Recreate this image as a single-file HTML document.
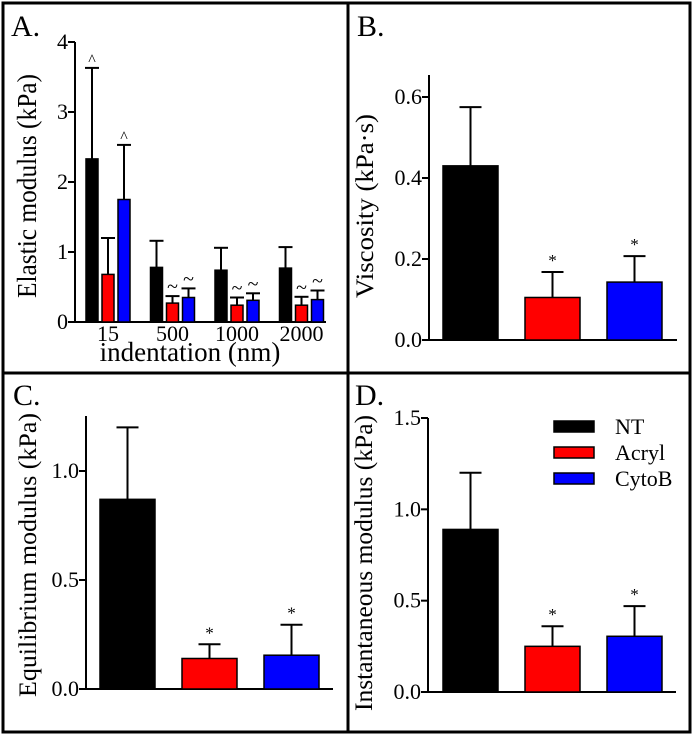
<!DOCTYPE html>
<html><head><meta charset="utf-8"><style>
html,body{margin:0;padding:0;background:#fff}
svg{display:block}
svg text{font-family:"Liberation Serif","Times New Roman","DejaVu Serif",serif;fill:#000}
</style></head><body>
<svg id="fig" width="696" height="741" viewBox="0 0 696 741" xmlns="http://www.w3.org/2000/svg" font-family="Liberation Serif, DejaVu Serif, serif">
<rect x="3" y="3" width="687" height="729" fill="none" stroke="#000" stroke-width="3"/>
<line x1="348" y1="3" x2="348" y2="732" stroke="#000" stroke-width="3"/>
<line x1="3" y1="373" x2="690" y2="373" stroke="#000" stroke-width="3"/>
<text x="11" y="36" font-size="30">A.</text>
<text x="357" y="36" font-size="30">B.</text>
<text x="13" y="405" font-size="30">C.</text>
<text x="355" y="405" font-size="30">D.</text>
<g id="plots"></g>
</svg>
<script>
// Panel A data
const aCategories = ["15","500","1000","2000"];
const aNT = [2.33,0.78,0.74,0.77];
const aNTerr = [1.30,0.38,0.32,0.30];
const aAcryl = [0.68,0.27,0.24,0.24];
const aAcrylErr = [0.52,0.10,0.11,0.12];
const aCyto = [1.75,0.35,0.31,0.32];
const aCytoErr = [0.78,0.13,0.10,0.13];
const aMarks = [["^","","^"],["","~","~"],["","~","~"],["","~","~"]];
const aTicks = [0,1,2,3,4];
// Panels B-D data
const groups = ["NT","Acryl","CytoB"];
const bVals = [0.43,0.105,0.143];
const bErr = [0.145,0.063,0.064];
const bTicks = ["0.0","0.2","0.4","0.6"];
const cVals = [0.87,0.14,0.155];
const cErr = [0.33,0.065,0.14];
const cTicks = ["0.0","0.5","1.0"];
const dVals = [0.89,0.25,0.305];
const dErr = [0.31,0.11,0.165];
const dTicks = ["0.0","0.5","1.0","1.5"];
const colors = ["#000000","#ff0000","#0000ff"];

const NS="http://www.w3.org/2000/svg";
const root=document.getElementById('plots');
function mk(tag,attrs,parent){const e=document.createElementNS(NS,tag);for(const k in attrs)e.setAttribute(k,attrs[k]);(parent||root).appendChild(e);return e;}
function txt(s,attrs,parent){const e=mk('text',attrs,parent);e.textContent=s;return e;}

function axisY(x,y0,yTop,sc,ticks,fs,name){
  const g=mk('g',{});
  
  
  mk('line',{x1:x,y1:y0+1,x2:x,y2:yTop,stroke:'#000','stroke-width':2},g);
  ticks.forEach(t=>{const v=parseFloat(t);const y=sc(v);
    mk('line',{x1:x-7,y1:y,x2:x,y2:y,stroke:'#000','stroke-width':2},g);
    const l=txt(String(t),{x:x-7,y:y+7,'font-size':fs,'text-anchor':'end'},g);
    
    
  });
}
function bar(x,w,v,e,sc,color,cap,mark,name,mfs){
  const y0=sc(0),yt=sc(v),ye=sc(v+e),cx=x+w/2;
  const r=mk('rect',{x:x,y:yt,width:w,height:y0-yt,fill:color,stroke:'#000','stroke-width':1.5});
  
  
  const l=mk('line',{x1:cx,y1:yt,x2:cx,y2:ye,stroke:'#000','stroke-width':2});
  
  
  mk('line',{x1:cx-cap/2,y1:ye,x2:cx+cap/2,y2:ye,stroke:'#000','stroke-width':2});
  if(mark){const m=txt(mark,{x:cx,y:ye-(mark==='*'?6:3),'font-size':mfs,'text-anchor':'middle'});
    
    }
}
// Panel A
(function(){
  const x0=75,y0=322,yTop=42,max=4;
  const sc=v=>y0-(y0-yTop)*v/max;
  axisY(x0,y0,yTop,sc,aTicks,22,'panel-a-y-axis');
  mk('line',{x1:x0,y1:y0,x2:326,y2:y0,stroke:'#000','stroke-width':2});
  const gw=64.5,start=86,bw=12;
  aCategories.forEach((c,i)=>{
    const gx=start+i*gw;
    const sets=[[aNT,aNTerr],[aAcryl,aAcrylErr],[aCyto,aCytoErr]];
    sets.forEach((s,j)=>bar(gx+j*16,bw,s[0][i],s[1][i],sc,colors[j],14,aMarks[i][j],'bar-a-'+c+'-'+groups[j],aMarks[i][j]==='^'?16:20));
    const t=txt(c,{x:gx+22,y:341,'font-size':22,'text-anchor':'middle'});
    
    
  });
  const xt=txt('indentation (nm)',{x:190,y:361,'font-size':27,'text-anchor':'middle'});
  
  
  const yt=txt('Elastic modulus (kPa)',{x:0,y:0,'font-size':27,'text-anchor':'middle',textLength:224,lengthAdjust:'spacingAndGlyphs',transform:'translate(36,186) rotate(-90)'});
  
  
})();
function simple(p){
  const sc=v=>p.y0-(p.y0-p.yRef)*v/p.ref;
  axisY(p.x0,p.y0,p.yTop,sc,p.ticks,22,p.name+'-y-axis');
  mk('line',{x1:p.x0,y1:p.y0,x2:p.xEnd,y2:p.y0,stroke:'#000','stroke-width':2});
  p.vals.forEach((v,i)=>bar(p.bx+i*82,55,v,p.err[i],sc,colors[i],22,i>0?'*':'',p.name+'-bar-'+groups[i],17));
  const yt=txt(p.title,{x:0,y:0,'font-size':25,'text-anchor':'middle',textLength:p.len,lengthAdjust:'spacingAndGlyphs',transform:'translate('+p.tx+','+p.ty+') rotate(-90)'});
  
  
}
simple({name:'panel-b',x0:429,y0:340,yTop:75,yRef:97,ref:0.6,ticks:bTicks,xEnd:677,vals:bVals,err:bErr,bx:443,title:'Viscosity (kPa\u00b7s)',tx:373,ty:206,len:184});
simple({name:'panel-c',x0:86,y0:689,yTop:416,yRef:471,ref:1.0,ticks:cTicks,xEnd:333,vals:cVals,err:cErr,bx:100,title:'Equilibrium modulus (kPa)',tx:36,ty:555,len:284});
simple({name:'panel-d',x0:428,y0:692,yTop:418,yRef:418,ref:1.5,ticks:dTicks,xEnd:676,vals:dVals,err:dErr,bx:443,title:'Instantaneous modulus (kPa)',tx:372,ty:563,len:296});
// Legend
groups.forEach((g,i)=>{
  const y=421+i*26;
  const r=mk('rect',{x:554,y:y,width:40,height:11,fill:colors[i],stroke:'#000','stroke-width':1.5});
  
  
  const t=txt(g,{x:615,y:y+13,'font-size':22});
  
  
});
</script>
</body></html>
